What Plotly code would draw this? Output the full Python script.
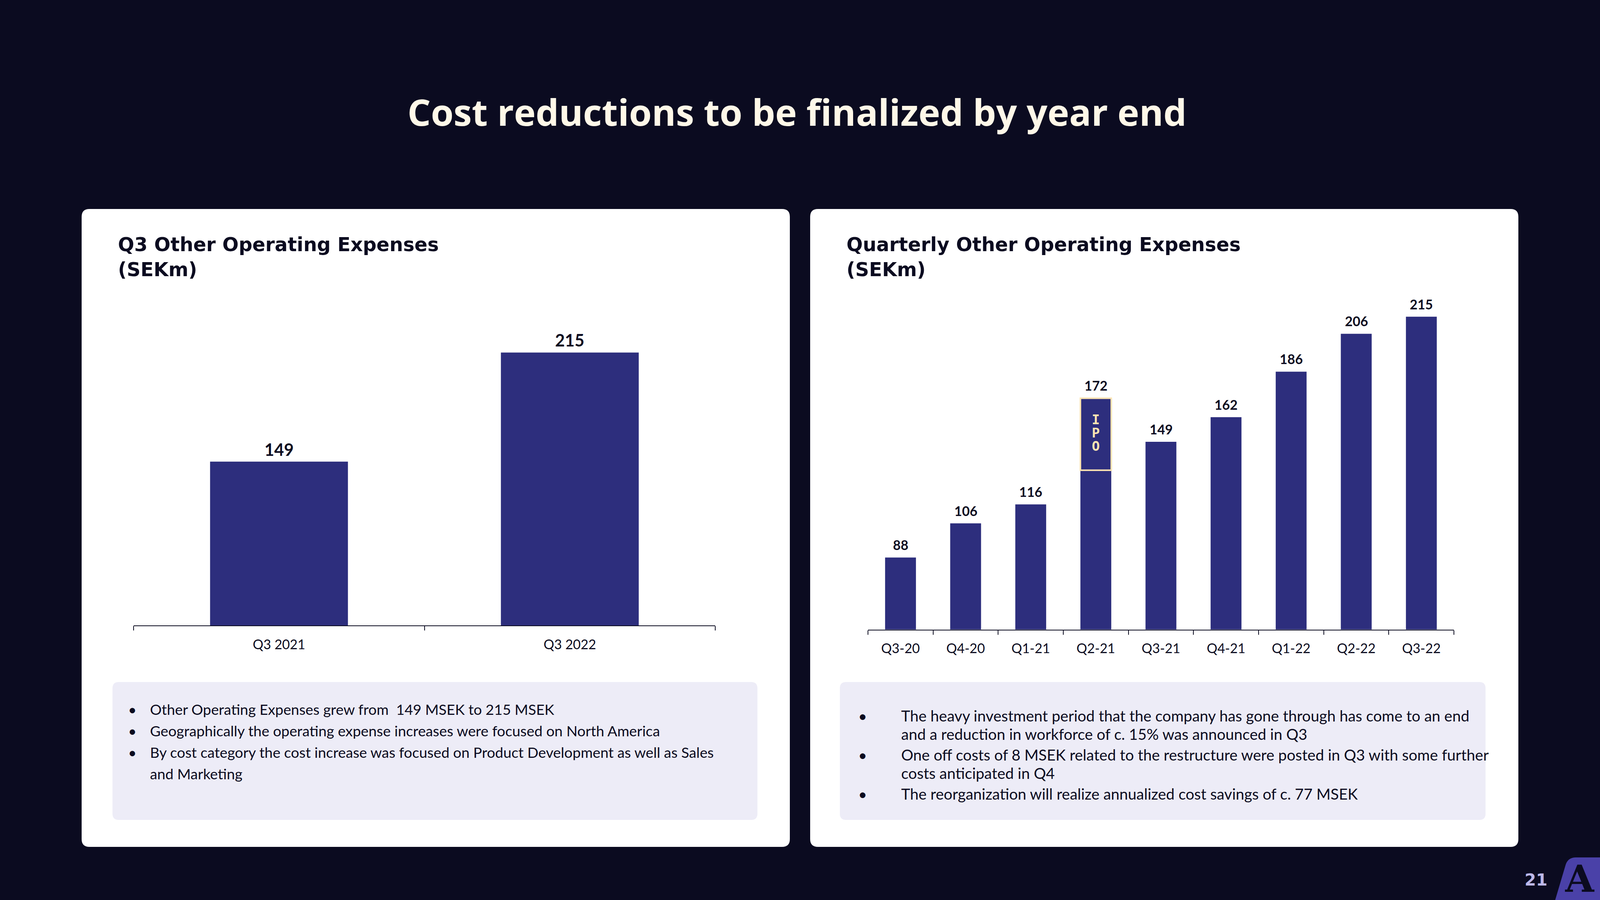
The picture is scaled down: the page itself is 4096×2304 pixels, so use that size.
import plotly.graph_objects as go

W, H = 4096, 2304

# ---------------- data ----------------
title_text = "Cost reductions to be finalized by year end"
left_title = "Q3 Other Operating Expenses<br>(SEKm)"
right_title = "Quarterly Other Operating Expenses<br>(SEKm)"

q3_categories = ["Q3 2021", "Q3 2022"]
q3_values = [149, 215]

quarter_categories = ["Q3-20", "Q4-20", "Q1-21", "Q2-21", "Q3-21",
                      "Q4-21", "Q1-22", "Q2-22", "Q3-22"]
quarter_values = [88, 106, 116, 172, 149, 162, 186, 206, 215]

ipo_quarter = "Q2-21"
ipo_letters = ["I", "P", "O"]
ipo_box_bottom = 134

left_bullets = [
    ["Other Operating Expenses grew from\u00a0 149 MSEK to 215 MSEK"],
    ["Geographically the operating expense increases were focused on North America"],
    ["By cost category the cost increase was focused on Product Development as well as Sales",
     "and Marketing"],
]
right_bullets = [
    ["The heavy investment period that the company has gone through has come to an end",
     "and a reduction in workforce of c. 15% was announced in Q3"],
    ["One off costs of 8 MSEK related to the restructure were posted in Q3 with some further",
     "costs anticipated in Q4"],
    ["The reorganization will realize annualized cost savings of c. 77 MSEK"],
]
page_number = "21"
logo_letter = "A"

# ---------------- styles ----------------
BG = "#0B0B20"
DARK = "#0B0B20"
BAR = "#2D2E7D"
CARD = "#FFFFFF"
BOX = "#EDECF7"
CREAM = "#FFF8E8"
GOLD = "#FBE4B2"
GOLD_TXT = "#FBE4B2"
LAVENDER = "#BDB8E8"
PURPLE = "#4A41A8"

bar_width = 0.474
y_min = 50


def px(x):
    return x / W


def py(y):
    return 1 - y / H


def rounded_rect(x0, y0, x1, y1, r):
    rx, ry = r / W, r / H
    X0, X1 = px(x0), px(x1)
    Y0, Y1 = py(y0), py(y1)  # Y0 top (larger), Y1 bottom
    return (f"M {X0+rx},{Y0} L {X1-rx},{Y0} Q {X1},{Y0} {X1},{Y0-ry} "
            f"L {X1},{Y1+ry} Q {X1},{Y1} {X1-rx},{Y1} "
            f"L {X0+rx},{Y1} Q {X0},{Y1} {X0},{Y1+ry} "
            f"L {X0},{Y0-ry} Q {X0},{Y0} {X0+rx},{Y0} Z")


fig = go.Figure()
fig.add_trace(go.Bar(x=q3_categories, y=q3_values, marker=dict(color=BAR, line=dict(width=0)),
                     xaxis="x", yaxis="y", hoverinfo="skip"))
fig.add_trace(go.Bar(x=quarter_categories, y=quarter_values, marker=dict(color=BAR, line=dict(width=0)),
                     xaxis="x2", yaxis="y2", hoverinfo="skip"))

# axis geometry (pixels)
L_base, L_top, L_scale = 1601, 800, 4.234
R_base, R_top, R_scale = 1611.6, 700, 4.854

xaxis_common = dict(type="category", showline=True, linecolor=DARK, linewidth=2,
                    ticks="outside", tickson="boundaries", ticklen=11, tickwidth=1.5,
                    tickcolor=DARK, tickfont=dict(family="Lato", size=34, color=DARK),
                    ticklabelstandoff=18,
                    showgrid=False, zeroline=False, fixedrange=True)

fig.update_layout(
    width=W, height=H, margin=dict(l=0, r=0, t=0, b=0),
    paper_bgcolor=BG, plot_bgcolor="rgba(0,0,0,0)", showlegend=False,
    bargap=1 - bar_width,
    xaxis=dict(domain=[px(342), px(1831)], range=[-0.5, len(q3_categories) - 0.5],
               anchor="y", **xaxis_common),
    yaxis=dict(domain=[py(L_base), py(L_top)],
               range=[y_min, y_min + (L_base - L_top) / L_scale],
               visible=False, anchor="x", fixedrange=True),
    xaxis2=dict(domain=[px(2222), px(3722)], range=[-0.5, len(quarter_categories) - 0.5],
                anchor="y2", **xaxis_common),
    yaxis2=dict(domain=[py(R_base), py(R_top)],
                range=[y_min, y_min + (R_base - R_top) / R_scale],
                visible=False, anchor="x2", fixedrange=True),
)

shapes = []
# cards
shapes.append(dict(type="path", path=rounded_rect(209, 535, 2022, 2168, 20), xref="paper", yref="paper",
                   fillcolor=CARD, line=dict(width=0), layer="below"))
shapes.append(dict(type="path", path=rounded_rect(2074, 535, 3887, 2168, 20), xref="paper", yref="paper",
                   fillcolor=CARD, line=dict(width=0), layer="below"))
# text boxes
shapes.append(dict(type="path", path=rounded_rect(288, 1746, 1939, 2099, 16), xref="paper", yref="paper",
                   fillcolor=BOX, line=dict(width=0), layer="below"))
shapes.append(dict(type="path", path=rounded_rect(2150, 1746, 3803, 2099, 16), xref="paper", yref="paper",
                   fillcolor=BOX, line=dict(width=0), layer="below"))
# IPO box
ipo_i = quarter_categories.index(ipo_quarter)
shapes.append(dict(type="rect", xref="x2", yref="y2",
                   x0=ipo_i - bar_width / 2, x1=ipo_i + bar_width / 2,
                   y0=ipo_box_bottom, y1=quarter_values[ipo_i],
                   line=dict(color=GOLD, width=4), fillcolor="rgba(0,0,0,0)", layer="above"))
# logo tab
lp = (f"M {px(3979.5)},{py(2310)} L {px(4008)},{py(2214)} Q {px(4014)},{py(2195)} {px(4034)},{py(2195)} "
      f"L {px(4100)},{py(2195)} L {px(4100)},{py(2310)} Z")
shapes.append(dict(type="path", path=lp, xref="paper", yref="paper", fillcolor=PURPLE,
                   line=dict(width=0), layer="below"))

annotations = []
# main title
annotations.append(dict(text=title_text, x=px(2040), y=py(285.5), xref="paper", yref="paper",
                        xanchor="center", yanchor="middle", showarrow=False,
                        font=dict(family="Open Sans", size=94, color=CREAM, weight="bold")))
# card titles
for t, x in [(left_title, 300), (right_title, 2165)]:
    annotations.append(dict(text=t, x=px(x), y=py(658), xref="paper", yref="paper",
                            xanchor="left", yanchor="middle", align="left", showarrow=False,
                            font=dict(family="DejaVu Sans", size=49, color=DARK, weight="bold")))
# value labels
for c, v in zip(q3_categories, q3_values):
    annotations.append(dict(text=str(v), x=c, y=v, xref="x", yref="y", xanchor="center",
                            yanchor="bottom", yshift=4, showarrow=False,
                            font=dict(family="Lato", size=43, color=DARK, weight="bold")))
for c, v in zip(quarter_categories, quarter_values):
    annotations.append(dict(text=str(v), x=c, y=v, xref="x2", yref="y2", xanchor="center",
                            yanchor="bottom", yshift=10, showarrow=False,
                            font=dict(family="Lato", size=34, color=DARK, weight="bold")))
# IPO letters
ipo_mid = (ipo_box_bottom + quarter_values[ipo_i]) / 2
for k, letter in enumerate(ipo_letters):
    annotations.append(dict(text=letter, x=ipo_quarter, y=ipo_mid, xref="x2", yref="y2",
                            xanchor="center", yanchor="middle", yshift=(1 - k) * 34 + 4,
                            showarrow=False,
                            font=dict(family="DejaVu Sans Mono", size=34, color=GOLD_TXT, weight="bold")))


# bullets
def add_bullets(items, bullet_x, text_x, y_first, wrap_step, bullet_step, size):
    y = y_first
    for item in items:
        annotations.append(dict(text="\u2022", x=px(bullet_x), y=py(y), xref="paper", yref="paper",
                                xanchor="center", yanchor="middle", showarrow=False,
                                font=dict(family="Lato", size=size, color=DARK)))
        for j, line in enumerate(item):
            annotations.append(dict(text=line, x=px(text_x), y=py(y), xref="paper", yref="paper",
                                    xanchor="left", yanchor="middle", showarrow=False,
                                    font=dict(family="Lato", size=size, color=DARK)))
            if j < len(item) - 1:
                y += wrap_step
        y += bullet_step


add_bullets(left_bullets, 339, 382, 1815, 55, 55, 37.3)
add_bullets(right_bullets, 2208, 2305, 1832, 46.5, 53.5, 39)

# page number and logo letter
annotations.append(dict(text=page_number, x=px(3932), y=py(2252), xref="paper", yref="paper",
                        xanchor="center", yanchor="middle", showarrow=False,
                        font=dict(family="DejaVu Sans", size=42, color=LAVENDER, weight="bold")))
annotations.append(dict(text=logo_letter, x=px(4044), y=py(2249), xref="paper", yref="paper",
                        xanchor="center", yanchor="middle", showarrow=False,
                        font=dict(family="DejaVu Serif", size=95, color=DARK, weight="bold")))

fig.update_layout(shapes=shapes, annotations=annotations)

fig.write_html("out.html", config={"displayModeBar": False},
               post_script="document.body.style.margin='0';document.body.style.overflow='hidden';"
                           "document.body.style.background='#0B0B20';")
